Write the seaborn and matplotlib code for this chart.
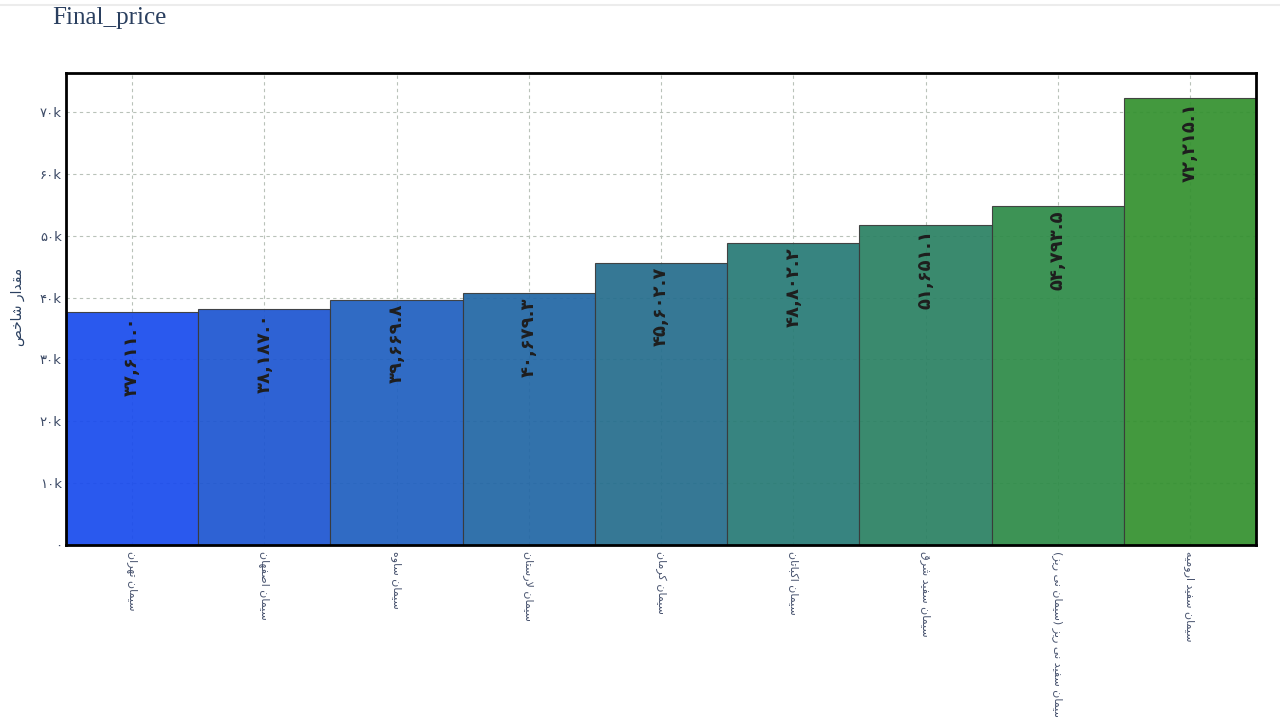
import numpy as np
import pandas as pd
import matplotlib
matplotlib.use("Agg")
import matplotlib.pyplot as plt
from matplotlib.ticker import FuncFormatter, MultipleLocator
from matplotlib.lines import Line2D
import seaborn as sns

# data
companies = [
    "سیمان تهران",
    "سیمان اصفهان",
    "سیمان ساوه",
    "سیمان لارستان",
    "سیمان کرمان",
    "سیمان اکباتان",
    "سیمان سفید شرق",
    "سیمان سفید نی ریز (سیمان نی ریز)",
    "سیمان سفید ارومیه",
]
final_price = [37611.0, 38187.0, 39669.8, 40679.3, 45602.7, 48802.2, 51651.1, 54793.5, 72215.1]
title_text = "Final_price"
ylabel_text = "مقدار شاخص"

bar_colors = ["#1a4ced", "#1e56d1", "#2060c0", "#2267a5", "#266e8d",
              "#287b76", "#2b8163", "#2e8b48", "#34912f"]

# --- minimal persian shaping (matplotlib has no bidi / joining) ---
RIGHT_ONLY = set("اآدذرزژو")
BASE = {"ا": 0xFE8D, "آ": 0xFE81, "د": 0xFEA9, "ذ": 0xFEAB, "ر": 0xFEAD, "ز": 0xFEAF,
        "ژ": 0xFB8A, "و": 0xFEED, "ب": 0xFE8F, "پ": 0xFB56, "ت": 0xFE95, "ث": 0xFE99,
        "ج": 0xFE9D, "چ": 0xFB7A, "ح": 0xFEA1, "خ": 0xFEA5, "س": 0xFEB1, "ش": 0xFEB5,
        "ص": 0xFEB9, "ض": 0xFEBD, "ط": 0xFEC1, "ظ": 0xFEC5, "ع": 0xFEC9, "غ": 0xFECD,
        "ف": 0xFED1, "ق": 0xFED5, "ک": 0xFB8E, "گ": 0xFB92, "ل": 0xFEDD, "م": 0xFEE1,
        "ن": 0xFEE5, "ه": 0xFEE9, "ی": 0xFBFC}
LAM_ALEF = {"ا": 0xFEFB, "آ": 0xFEF5}


def joins_next(ch):
    return ch in BASE and ch not in RIGHT_ONLY


def shape(text):
    out = []
    n = len(text)
    i = 0
    while i < n:
        c = text[i]
        if c not in BASE:
            out.append(c)
            i += 1
            continue
        jp = i > 0 and joins_next(text[i - 1])
        if c == "ل" and i + 1 < n and text[i + 1] in LAM_ALEF:
            out.append(chr(LAM_ALEF[text[i + 1]] + (1 if jp else 0)))
            i += 2
            continue
        jn = joins_next(c) and i + 1 < n and text[i + 1] in BASE
        k = 3 if (jp and jn) else 1 if jp else 2 if jn else 0
        out.append(chr(BASE[c] + k))
        i += 1
    mirror = {"(": ")", ")": "("}
    return "".join(mirror.get(ch, ch) for ch in reversed(out))


fa_digits = str.maketrans("0123456789", "۰۱۲۳۴۵۶۷۸۹")

df = pd.DataFrame({"company": [shape(c) for c in companies], "price": final_price})

sns.set_theme(style="white")
plt.rcParams["font.family"] = ["DejaVu Sans"]

fig = plt.figure(figsize=(12.8, 7.17), dpi=100)
ax = fig.add_axes([0.0516, 0.2399, 0.9297, 0.6583])

sns.barplot(data=df, x="company", y="price", hue="company", palette=bar_colors,
            legend=False, width=1.0, edgecolor="#3a3a3a", linewidth=0.8,
            saturation=1, alpha=0.93, ax=ax)

# seaborn switches off the grid on the categorical axis, so set it after
ax.grid(True, axis="both", color="#b9c2b9", linestyle=(0, (3, 3)), linewidth=0.8)
ax.set_axisbelow(True)

ax.set_xlim(-0.5, len(companies) - 0.5)
ax.set_ylim(0, 76300)
ax.yaxis.set_major_locator(MultipleLocator(10000))
ax.yaxis.set_major_formatter(FuncFormatter(
    lambda v, p: "۰" if v == 0 else f"{int(round(v / 1000))}k".translate(fa_digits)))

ax.tick_params(axis="y", length=0, pad=3, labelsize=9.5, labelcolor="#3c4a66")
ax.tick_params(axis="x", length=0, pad=4, labelsize=8, labelcolor="#4a5570",
               labelrotation=-90)
for lbl in ax.get_xticklabels():
    lbl.set_verticalalignment("top")
    lbl.set_horizontalalignment("center")

ax.set_xlabel("")
ax.set_ylabel("")
fig.text(18 / 1280, 1 - 307 / 717, shape(ylabel_text), rotation=90, ha="center",
         va="center", fontsize=10, color="#2a3f5f")

for spine in ax.spines.values():
    spine.set_visible(True)
    spine.set_color("black")
    spine.set_linewidth(2)

# value labels inside bar tops
for i, v in enumerate(df["price"]):
    txt = f"{v:,.1f}".translate(fa_digits)
    ax.annotate(txt, (i, v), xytext=(0, -3), textcoords="offset points",
                rotation=90, ha="center", va="top", fontsize=13,
                fontweight="bold", color="#1e1e1e")

fig.text(52 / 1280, 1 - 7 / 717, title_text, ha="left", va="top", fontsize=18,
         family=["Liberation Serif"], color="#2a3f5f")
fig.add_artist(Line2D([0, 1], [1 - 5 / 717, 1 - 5 / 717], color="#ececec",
                      linewidth=1.5, transform=fig.transFigure))

fig.savefig("out.png", dpi=100)
